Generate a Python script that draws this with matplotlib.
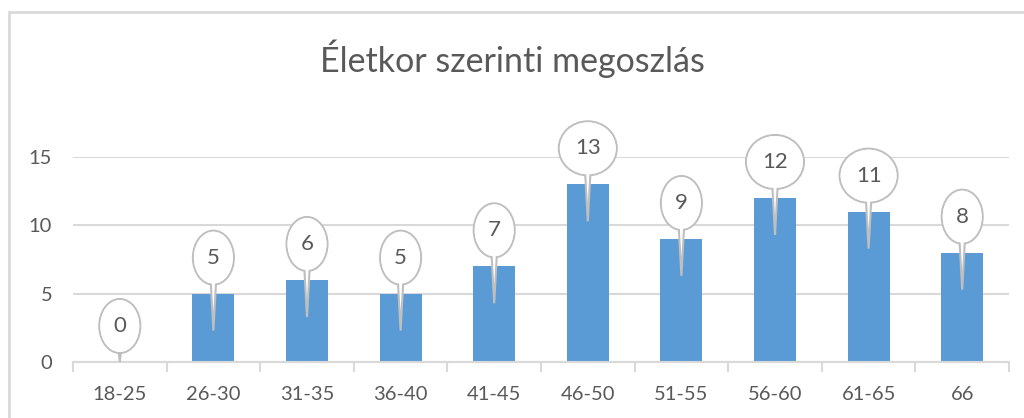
import matplotlib
matplotlib.use("Agg")
import matplotlib.pyplot as plt
import matplotlib.transforms as mtransforms
from matplotlib.patches import Ellipse, Polygon, Rectangle

# Age distribution data
categories = ["18-25", "26-30", "31-35", "36-40", "41-45", "46-50", "51-55", "56-60", "61-65", "66"]
counts = [0, 5, 6, 5, 7, 13, 9, 12, 11, 8]
yticks = [0, 5, 10, 15]
title = "Életkor szerinti megoszlás"

txt = "#595959"
grid = "#D9D9D9"
blue = "#5B9BD5"
edge = "#BFBFBF"

plt.rcParams['font.family'] = ['Lato', 'DejaVu Sans']

fig = plt.figure(figsize=(10.24, 4.18), dpi=100)
# chart border (left and top visible)
fig.add_artist(Rectangle((9 / 1024, -0.1), 1.2, 1.1 - 12 / 418, transform=fig.transFigure,
                         fill=False, edgecolor=grid, linewidth=2))

ax = fig.add_axes([73 / 1024, (418 - 362) / 418, 936 / 1024, 205 / 418])
x = list(range(len(categories)))
ax.bar(x, counts, width=0.45, color=blue, zorder=2)
ax.set_xlim(-0.5, len(categories) - 0.5)
ax.set_ylim(0, 15)
ax.set_yticks(yticks)
ax.set_xticks(x)
ax.set_xticklabels(categories)
for s in ["top", "right", "left"]:
    ax.spines[s].set_visible(False)
ax.spines["bottom"].set_color(grid)
ax.spines["bottom"].set_linewidth(1.5)
ax.set_axisbelow(True)
ax.yaxis.grid(True, color=grid, linewidth=1.5)
ax.tick_params(axis="y", length=0, pad=15, labelsize=14.5, labelcolor=txt)
ax.tick_params(axis="x", length=0, pad=17, labelsize=14.5, labelcolor=txt)
# tick marks between categories
ax.set_xticks([i - 0.5 for i in range(len(categories) + 1)], minor=True)
ax.tick_params(axis="x", which="minor", length=7, width=1.5, color=grid)

fig.text(0.5, 0.86, title, ha="center", va="center", fontsize=24.5, color=txt)

# callout bubbles
for xi, v in zip(x, counts):
    tr = fig.dpi_scale_trans + mtransforms.ScaledTranslation(xi, v, ax.transData)
    label = str(v)
    w = 0.58 if len(label) > 1 else 0.41
    h = 0.54
    cy = 0.36
    tip = -0.37 if v > 0 else 0.0
    ell = Ellipse((0, cy), w, h, transform=tr, facecolor="white", edgecolor=edge,
                  linewidth=1.5, zorder=4, clip_on=False)
    ax.add_artist(ell)
    ptr = Polygon([(-0.04, cy), (0.04, cy), (0.0, tip)], closed=True, transform=tr,
                  facecolor="white", edgecolor=edge, linewidth=1.5, zorder=5, clip_on=False)
    ax.add_artist(ptr)
    cover = Ellipse((0, cy), w - 0.02, h - 0.02, transform=tr, facecolor="white",
                    edgecolor="none", zorder=6, clip_on=False)
    ax.add_artist(cover)
    ax.text(0, cy, label, transform=tr, ha="center", va="center", fontsize=16,
            color=txt, zorder=7)

fig.savefig("out.png", dpi=100)
